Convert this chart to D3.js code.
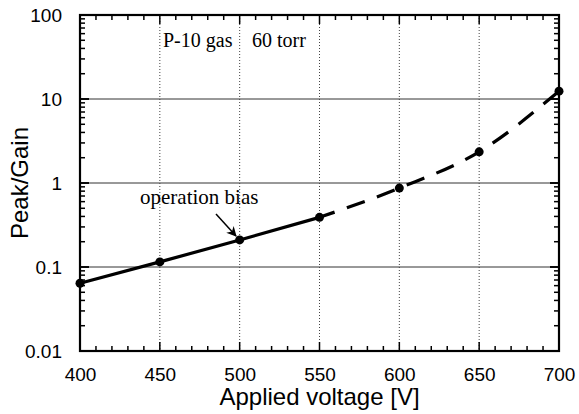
<!DOCTYPE html>
<meta charset="utf-8">
<style>
    body { margin: 0; background: #fff; }
    .tick text { font: 19px "Liberation Sans", Arial, sans-serif; fill: #000; }
    .lbl { font: 24px "Liberation Sans", Arial, sans-serif; fill: #000; }
    .note { font: 20px "Liberation Serif", "Times New Roman", serif; fill: #000; }
</style>
<body>
<script src="https://d3js.org/d3.v7.min.js"></script>
<script>
    // measured points
    var voltage = [400, 450, 500, 550, 600, 650, 700];
    var gain = [0.064, 0.115, 0.21, 0.39, 0.87, 2.35, 12.4];
    // solid part up to 550 V, dashed extrapolation beyond
    var solidIdx = [0, 1, 2, 3];
    var dashIdx = [3, 4, 5, 6];
    var xTicks = [400, 450, 500, 550, 600, 650, 700];
    var yTicks = [0.01, 0.1, 1, 10, 100];
    var yTickLabels = ["0.01", "0.1", "1", "10", "100"];

    var margin = {top: 15, right: 20, bottom: 63, left: 80},
        width = 579 - margin.left - margin.right,
        height = 414 - margin.top - margin.bottom;

    var x = d3.scaleLinear().domain([400, 700]).range([0, width]);
    var y = d3.scaleLog().domain([0.01, 100]).range([height, 0]);

    var svg = d3.select("body").append("svg")
        .attr("width", 579)
        .attr("height", 414)
        .append("g")
        .attr("transform", "translate(" + margin.left + "," + margin.top + ")");

    // grid
    svg.selectAll(".hgrid").data([0.1, 1, 10]).enter().append("line")
        .attr("x1", 0).attr("x2", width)
        .attr("y1", function(d) { return y(d); })
        .attr("y2", function(d) { return y(d); })
        .attr("stroke", "#333").attr("stroke-width", 1);
    svg.selectAll(".vgrid").data([450, 500, 550, 600, 650]).enter().append("line")
        .attr("y1", 0).attr("y2", height)
        .attr("x1", function(d) { return x(d); })
        .attr("x2", function(d) { return x(d); })
        .attr("stroke", "#444").attr("stroke-width", 1)
        .attr("stroke-dasharray", "1,2");

    // minor ticks
    var xMinor = d3.range(400, 701, 10);
    var yMinor = [];
    [0.01, 0.1, 1, 10].forEach(function(dec) {
        for (var k = 1; k <= 10; k++) yMinor.push(dec * k);
    });

    var ticks = svg.append("g").attr("stroke", "#000").attr("stroke-width", 1.5);
    xMinor.forEach(function(v) {
        var len = (v % 50 === 0) ? 9 : 5;
        ticks.append("line").attr("x1", x(v)).attr("x2", x(v)).attr("y1", height).attr("y2", height - len);
        ticks.append("line").attr("x1", x(v)).attr("x2", x(v)).attr("y1", 0).attr("y2", len);
    });
    yMinor.forEach(function(v) {
        var major = Math.abs(Math.log10(v) - Math.round(Math.log10(v))) < 1e-9;
        var len = major ? 9 : 5;
        ticks.append("line").attr("y1", y(v)).attr("y2", y(v)).attr("x1", 0).attr("x2", len);
        ticks.append("line").attr("y1", y(v)).attr("y2", y(v)).attr("x1", width).attr("x2", width - len);
    });

    // frame
    svg.append("rect").attr("width", width).attr("height", height)
        .attr("fill", "none").attr("stroke", "#000").attr("stroke-width", 2.2);

    // axes (labels only)
    var xAxis = d3.axisBottom(x).tickValues(xTicks).tickSize(0).tickPadding(17);
    svg.append("g").attr("transform", "translate(0," + height + ")").call(xAxis)
        .call(function(g) { g.select(".domain").remove(); });
    var yAxis = d3.axisLeft(y).tickValues(yTicks).tickSize(0).tickPadding(18)
        .tickFormat(function(d, i) { return yTickLabels[i]; });
    svg.append("g").call(yAxis)
        .call(function(g) { g.select(".domain").remove(); });

    // curves
    var line = d3.line()
        .x(function(i) { return x(voltage[i]); })
        .y(function(i) { return y(gain[i]); });
    var curve = d3.line()
        .curve(d3.curveMonotoneX)
        .x(function(i) { return x(voltage[i]); })
        .y(function(i) { return y(gain[i]); });

    svg.append("path").datum(solidIdx).attr("d", line)
        .attr("fill", "none").attr("stroke", "#000").attr("stroke-width", 3.2);
    svg.append("path").datum(dashIdx).attr("d", curve)
        .attr("fill", "none").attr("stroke", "#000").attr("stroke-width", 3.2)
        .attr("stroke-dasharray", "16,13,19,13,19,13,19,13,19,13,19,13,19,13,19,13,19,60");

    svg.selectAll(".dot").data(voltage).enter().append("circle")
        .attr("cx", function(d) { return x(d); })
        .attr("cy", function(d, i) { return y(gain[i]); })
        .attr("r", 4.5).attr("fill", "#000");

    // annotations
    svg.append("text").attr("class", "note").attr("x", 83).attr("y", 32).text("P-10 gas");
    svg.append("text").attr("class", "note").attr("x", 172).attr("y", 32).text("60 torr");
    svg.append("text").attr("class", "note").attr("x", 60).attr("y", 189)
        .style("font-size", "21px").text("operation bias");

    svg.append("defs").append("marker")
        .attr("id", "ah").attr("viewBox", "0 0 10 10")
        .attr("refX", 9).attr("refY", 5)
        .attr("markerWidth", 10).attr("markerHeight", 10)
        .attr("markerUnits", "userSpaceOnUse")
        .attr("orient", "auto")
        .append("path").attr("d", "M0,0L10,5L0,10L3,5Z").attr("fill", "#000");
    svg.append("line")
        .attr("x1", 136).attr("y1", 199).attr("x2", 156).attr("y2", 221)
        .attr("stroke", "#000").attr("stroke-width", 1.5)
        .attr("marker-end", "url(#ah)");

    // axis titles
    svg.append("text").attr("class", "lbl")
        .attr("x", width / 2).attr("y", height + 54)
        .attr("text-anchor", "middle").text("Applied voltage [V]");
    svg.append("text").attr("class", "lbl")
        .attr("transform", "translate(-52," + (height / 2) + ") rotate(-90)")
        .attr("text-anchor", "middle").text("Peak/Gain");
</script>
